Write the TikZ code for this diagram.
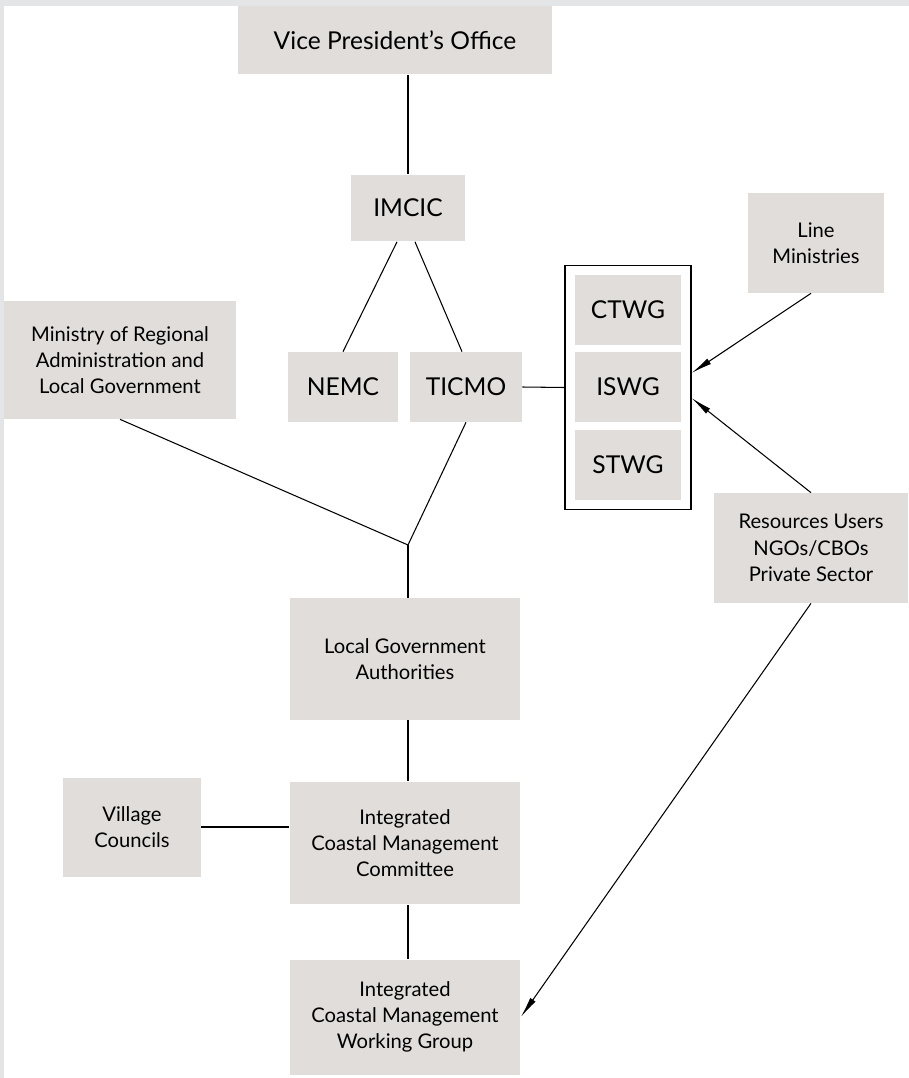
\documentclass[tikz,border=0pt]{standalone}
\usepackage{fontspec}
\setsansfont{Lato}
\usetikzlibrary{arrows.meta,fit}

\definecolor{boxgray}{RGB}{225,221,219}
\definecolor{edgegray}{RGB}{228,229,231}

\begin{document}
\begin{tikzpicture}[
    x=0.02cm, y=-0.02cm,
    font=\sffamily,
    box/.style={fill=boxgray, align=center, inner sep=2pt},
    big/.style={box, font=\sffamily\fontsize{14}{17}\selectfont},
    small/.style={box, font=\sffamily\fontsize{11.5}{15}\selectfont},
    link/.style={semithick},
    feed/.style={semithick, -{Latex[length=0.42cm, width=0.13cm]}}
]

% Fondo: borde gris arriba y a la izquierda
\fill[edgegray] (0,0) rectangle (909,1078);
\fill[white] (4,6) rectangle (909,1078);
\useasboundingbox (0,0) rectangle (909,1078);

% 1. Nivel nacional
\node[big, minimum width=6.28cm, minimum height=1.38cm] (vpo) at (395,40) {Vice President's Office};
\node[big, minimum width=2.3cm, minimum height=1.34cm] (imcic) at (408,208) {IMCIC};
\node[big, minimum width=2.2cm, minimum height=1.4cm] (nemc) at (343,387) {NEMC};
\node[big, minimum width=2.24cm, minimum height=1.4cm] (ticmo) at (466,387) {TICMO};
\node[small, minimum width=4.64cm, minimum height=2.36cm] (mralg) at (120,360) {Ministry of Regional\\Administration and\\Local Government};

% 2. Grupos de trabajo (dentro del marco)
\node[big, minimum width=2.14cm, minimum height=1.4cm] (ctwg) at (628,310) {CTWG};
\node[big, minimum width=2.14cm, minimum height=1.4cm] (iswg) at (628,387) {ISWG};
\node[big, minimum width=2.14cm, minimum height=1.4cm] (stwg) at (628,465) {STWG};
\node[draw, thick, fit=(ctwg)(stwg), inner sep=0.18cm] (wg) {};

% 3. Actores externos
\node[small, minimum width=2.74cm, minimum height=2cm] (lineMin) at (816,243) {Line\\Ministries};
\node[small, minimum width=3.88cm, minimum height=2.2cm] (users) at (811,548) {Resources Users\\NGOs/CBOs\\Private Sector};

% 4. Nivel local
\node[small, minimum width=4.62cm, minimum height=2.44cm] (lga) at (405,659) {Local Government\\Authorities};
\node[small, minimum width=2.76cm, minimum height=1.98cm] (village) at (132,827) {Village\\Councils};
\node[small, minimum width=4.62cm, minimum height=2.46cm] (icmc) at (405,843) {Integrated\\Coastal Management\\Committee};
\node[small, minimum width=4.62cm, minimum height=2.3cm] (icmwg) at (405,1017) {Integrated\\Coastal Management\\Working Group};

% 5. Conexiones
\coordinate (junc) at (408,545);
\draw[link] (vpo.south -| imcic) -- (imcic.north);
\draw[link] ([xshift=-0.22cm]imcic.south) -- (nemc.north);
\draw[link] ([xshift=0.14cm]imcic.south) -- ([xshift=-0.08cm]ticmo.north);
\draw[link] (ticmo.east) -- (wg.west);
\draw[link] (mralg.south) -- (junc);
\draw[link] (ticmo.south) -- (junc);
\draw[link] (junc) -- (lga.north -| junc);
\draw[link] (lga.south -| junc) -- (icmc.north -| junc);
\draw[link] (village.east) -- (icmc.west |- village.east);
\draw[link] (icmc.south -| junc) -- (icmwg.north -| junc);

% Flechas de participación
\draw[feed] ([xshift=-0.1cm]lineMin.south) -- ([yshift=0.29cm]wg.east);
\draw[feed] (users.north) -- ([yshift=-0.21cm]wg.east);
\draw[feed] (users.south) -- (icmwg.east);

\end{tikzpicture}
\end{document}
